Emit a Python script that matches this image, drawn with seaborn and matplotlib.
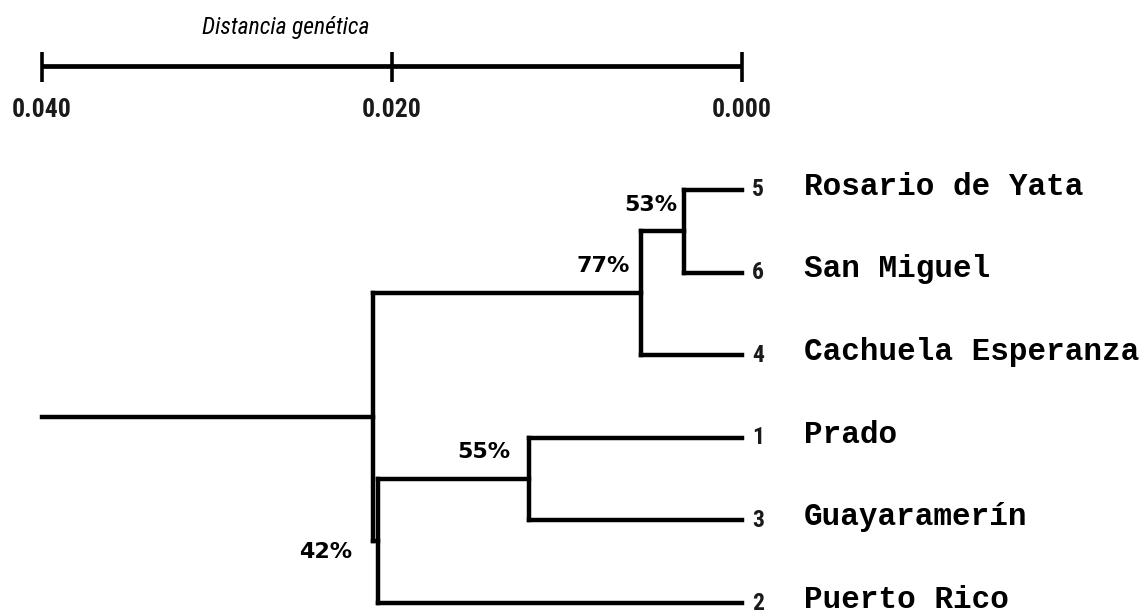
"""
Dendrogram of genetic distance between sampling sites.
"""

import matplotlib
matplotlib.use("Agg")
import matplotlib.pyplot as plt
import pandas as pd
import seaborn as sns
from matplotlib import font_manager

# tips, top to bottom
leaf_names = ["Rosario de Yata", "San Miguel", "Cachuela Esperanza",
              "Prado", "Guayaramerín", "Puerto Rico"]
leaf_codes = ["5", "6", "4", "1", "3", "2"]

# internal nodes (joined in this order)
node_names = ["A", "B", "C", "D", "E"]
node_left = ["5", "A", "1", "C", "B"]
node_right = ["6", "4", "3", "2", "D"]
node_dist = [0.0033, 0.0058, 0.0122, 0.0208, 0.0211]
node_support = ["53%", "77%", "55%", "42%", ""]
root_dist = 0.040

scale_ticks = [0.040, 0.020, 0.000]
scale_title = "Distancia genética"

# bootstrap label offsets (pixels, relative to the node)
support_offset = {"A": (-7, 26), "B": (-11, 27), "C": (-18, 27), "D": (-26, -11)}


def pick_font(candidates):
    have = {f.name for f in font_manager.fontManager.ttflist}
    for c in candidates:
        if c in have:
            return c
    return "DejaVu Sans"


NARROW = pick_font(["Arial Narrow", "Liberation Sans Narrow", "Roboto Condensed",
                    "PT Sans Narrow", "Archivo Narrow", "Barlow Condensed"])


def build_segments():
    pos = {c: (0.0, i) for i, c in enumerate(leaf_codes)}
    rows = []
    seg = 0
    for name, l, r, d in zip(node_names, node_left, node_right, node_dist):
        yl, yr = pos[l][1], pos[r][1]
        y = (yl + yr) / 2
        pos[name] = (d, y)
        # vertical join
        rows += [(seg, d, yl), (seg, d, yr)]
        seg += 1
        # horizontal branches to children
        for c in (l, r):
            rows += [(seg, d, pos[c][1]), (seg, pos[c][0], pos[c][1])]
            seg += 1
    # root stem
    rx, ry = pos[node_names[-1]]
    rows += [(seg, root_dist, ry), (seg, rx, ry)]
    return pd.DataFrame(rows, columns=["seg", "x", "y"]), pos


def main():
    sns.set_theme(style="white")
    plt.rcParams["text.color"] = "black"
    df, pos = build_segments()

    fig = plt.figure(figsize=(11.47, 6.14), dpi=100)
    ax = fig.add_axes([0, 0, 1, 1])

    sns.lineplot(data=df, x="x", y="y", units="seg", estimator=None, sort=False,
                 color="black", lw=3.2, legend=False, ax=ax,
                 solid_capstyle="projecting")

    # pixel-matched view: 0.040 -> x=42px, 0.000 -> x=742px, tips every 82.6px from y=190px
    ax.set_xlim(0.0424, -0.02314)
    ax.set_ylim(5.133, -2.300)
    ax.axis("off")

    # tip labels
    for i, (code, name) in enumerate(zip(leaf_codes, leaf_names)):
        ax.text(-0.00058, i, code, ha="left", va="center", fontsize=17,
                family=NARROW, fontweight="bold", color="#1a1a1a")
        ax.text(-0.00352, i - 0.04, name, ha="left", va="center", fontsize=22.3,
                family="Liberation Mono", fontweight="bold", color="black")

    # bootstrap support
    for name, sup in zip(node_names, node_support):
        if not sup:
            continue
        ax.annotate(sup, xy=pos[name], xytext=support_offset[name],
                    textcoords="offset pixels", ha="right", va="center",
                    fontsize=16, fontweight="bold", family="DejaVu Sans",
                    color="black")

    # distance scale bar
    bar_y = -1.50
    ax.hlines(bar_y, scale_ticks[0], scale_ticks[-1], color="black", lw=3.4)
    ax.vlines(scale_ticks, bar_y - 0.17, bar_y + 0.19, color="black", lw=2.6)
    for t in scale_ticks:
        ax.text(t, -0.97, f"{t:.3f}", ha="center", va="center", fontsize=18.5,
                family=NARROW, fontweight="bold", color="#1a1a1a")
    ax.text(0.02606, -1.97, scale_title, ha="center", va="center",
            fontsize=17, style="italic", family=NARROW, color="black")

    fig.savefig("out.png", dpi=100)
    plt.close(fig)


if __name__ == "__main__":
    main()
